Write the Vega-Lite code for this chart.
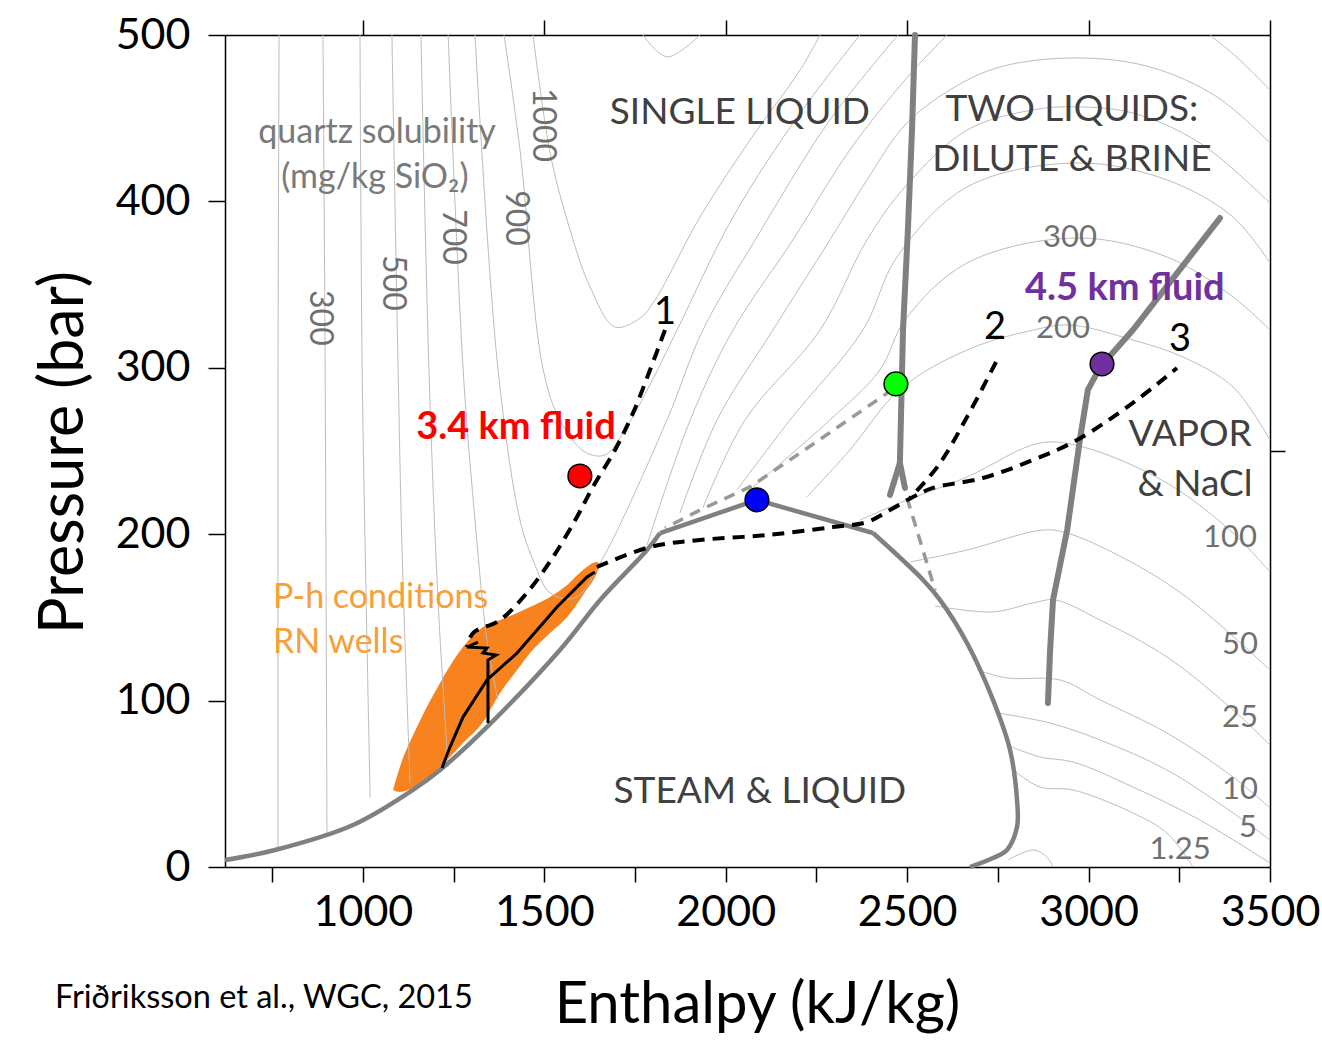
{
"$schema": "https://vega.github.io/schema/vega-lite/v6.json",
"width": 1045, "height": 832,
"autosize": "none",
"padding": {"left": 225, "top": 35, "right": 52, "bottom": 194},
"background": "white",
"config": {"view": {"stroke": null}, "font": "Lato",
  "axis": {"grid": false, "domainColor": "black", "tickColor": "black", "labelColor": "black", "titleColor": "black", "labelFont": "Lato", "titleFont": "Lato", "titleFontWeight": "normal", "domainWidth": 1.5, "tickWidth": 1.5}},
"title": {"text": "Friðriksson et al., WGC, 2015", "orient": "bottom", "anchor": "start", "frame": "group", "font": "Lato", "fontSize": 32.5, "fontWeight": "normal", "color": "black", "dx": -170, "baseline": "alphabetic", "offset": 0, "dy": -26},
"datasets": {
 "orange": [
  {"h":1083,"p":46.3,"p2":46.3},{"h":1102,"p":60.1,"p2":45.1},{"h":1149,"p":84.1,"p2":49.3},{"h":1212.5,"p":110.6,"p2":60.1},{"h":1276,"p":132.2,"p2":74.5},{"h":1331,"p":144.2,"p2":87.1},{"h":1378,"p":148.4,"p2":104.6},{"h":1425,"p":152.7,"p2":118.4},{"h":1460.6,"p":156.3,"p2":128.6},{"h":1516,"p":162.3,"p2":140.6},{"h":1563,"p":169.5,"p2":150.2},{"h":1606.6,"p":178.5,"p2":163.5},{"h":1645,"p":183.3,"p2":176.7},{"h":1654,"p":181.5,"p2":181.5}
 ],
 "contours": [
  {"c":"V1","o":1,"h":769,"p":500},{"c":"V1","o":2,"h":766,"p":280.7},{"c":"V1","o":3,"h":766,"p":9.6},
  {"c":"V2","o":1,"h":890,"p":500},{"c":"V2","o":2,"h":896,"p":299.9},{"c":"V2","o":3,"h":901,"p":20.4},
  {"c":"V3","o":1,"h":992,"p":500},{"c":"V3","o":2,"h":998,"p":299.9},{"c":"V3","o":3,"h":1009,"p":160.5},{"c":"V3","o":4,"h":1020,"p":41.5},
  {"c":"V4","o":1,"h":1080,"p":500},{"c":"V4","o":2,"h":1097,"p":299.9},{"c":"V4","o":3,"h":1108,"p":190.5},{"c":"V4","o":4,"h":1130,"p":50.5},
  {"c":"V5","o":1,"h":1160,"p":500},{"c":"V5","o":2,"h":1182,"p":299.9},{"c":"V5","o":3,"h":1207,"p":160.5},{"c":"V5","o":4,"h":1235,"p":60.1},
  {"c":"V6","o":1,"h":1235,"p":500},{"c":"V6","o":2,"h":1276,"p":299.9},{"c":"V6","o":3,"h":1309,"p":208.5},{"c":"V6","o":4,"h":1342,"p":136.4},{"c":"V6","o":5,"h":1372,"p":100.4},
  {"c":"V7","o":1,"h":1309,"p":500},{"c":"V7","o":2,"h":1372,"p":299.9},{"c":"V7","o":3,"h":1433,"p":208.5},{"c":"V7","o":4,"h":1469,"p":184.5},{"c":"V7","o":5,"h":1516,"p":164.7},{"c":"V7","o":6,"h":1585,"p":161.7},{"c":"V7","o":7,"h":1654,"p":182.7},{"c":"V7","o":8,"h":1838,"p":268.6},{"c":"V7","o":9,"h":1937,"p":322.7},{"c":"V7","o":10,"h":2081,"p":376.8},{"c":"V7","o":11,"h":2287,"p":448.9},{"c":"V7","o":12,"h":2475,"p":500},
  {"c":"V8","o":1,"h":1389,"p":500},{"c":"V8","o":2,"h":1433,"p":430.9},{"c":"V8","o":3,"h":1496,"p":299.9},{"c":"V8","o":4,"h":1543,"p":268.6},{"c":"V8","o":5,"h":1612,"p":249.4},{"c":"V8","o":6,"h":1667,"p":247.6},{"c":"V8","o":7,"h":1722,"p":262.6},{"c":"V8","o":8,"h":1791,"p":289.7},{"c":"V8","o":9,"h":1866,"p":322.7},{"c":"V8","o":10,"h":2020,"p":390.6},{"c":"V8","o":11,"h":2205,"p":453.1},{"c":"V8","o":12,"h":2370,"p":500},
  {"c":"V9","o":1,"h":1469,"p":500},{"c":"V9","o":2,"h":1516,"p":429.1},{"c":"V9","o":3,"h":1563,"p":388.8},{"c":"V9","o":4,"h":1626,"p":348.6},{"c":"V9","o":5,"h":1695,"p":324.5},{"c":"V9","o":6,"h":1764,"p":329.9},{"c":"V9","o":7,"h":1805,"p":340.7},{"c":"V9","o":8,"h":1929,"p":390.6},{"c":"V9","o":9,"h":2067,"p":436.9},{"c":"V9","o":10,"h":2205,"p":479},{"c":"V9","o":11,"h":2260,"p":500},
  {"c":"V10","o":1,"h":1772,"p":500},{"c":"V10","o":2,"h":1838,"p":486.8},{"c":"V10","o":3,"h":1929,"p":500},
  {"c":"L2","o":1,"h":1783,"p":193.5},{"c":"L2","o":2,"h":1902,"p":268.6},{"c":"L2","o":3,"h":2020,"p":322.7},{"c":"L2","o":4,"h":2185,"p":376.8},{"c":"L2","o":5,"h":2342,"p":430.9},{"c":"L2","o":6,"h":2494,"p":473},{"c":"L2","o":7,"h":2549,"p":486.2},{"c":"L2","o":8,"h":2610,"p":500},
  {"c":"L3","o":1,"h":1874,"p":212.8},{"c":"L3","o":2,"h":1976,"p":268.6},{"c":"L3","o":3,"h":2130,"p":322.7},{"c":"L3","o":4,"h":2287,"p":376.8},{"c":"L3","o":5,"h":2398,"p":415.9},{"c":"L3","o":6,"h":2494,"p":445.9},{"c":"L3","o":7,"h":2618,"p":467},{"c":"L3","o":8,"h":2756,"p":480.8},{"c":"L3","o":9,"h":2968,"p":486.2},{"c":"L3","o":10,"h":3169,"p":480.8},{"c":"L3","o":11,"h":3354,"p":462.8},{"c":"L3","o":12,"h":3500,"p":435.1},
  {"c":"L4","o":1,"h":1937,"p":215.8},{"c":"L4","o":2,"h":2053,"p":268.6},{"c":"L4","o":3,"h":2260,"p":322.7},{"c":"L4","o":4,"h":2389,"p":376.8},{"c":"L4","o":5,"h":2494,"p":408.7},{"c":"L4","o":6,"h":2665,"p":442.9},{"c":"L4","o":7,"h":2847,"p":455},{"c":"L4","o":8,"h":2968,"p":456.8},{"c":"L4","o":9,"h":3122,"p":453.1},{"c":"L4","o":10,"h":3307,"p":435.1},{"c":"L4","o":11,"h":3500,"p":399},
  {"c":"L5","o":1,"h":2031,"p":226.6},{"c":"L5","o":2,"h":2177,"p":268.6},{"c":"L5","o":3,"h":2378,"p":322.7},{"c":"L5","o":4,"h":2472,"p":366.6},{"c":"L5","o":5,"h":2665,"p":408.7},{"c":"L5","o":6,"h":2968,"p":423.1},{"c":"L5","o":7,"h":3216,"p":412.9},{"c":"L5","o":8,"h":3398,"p":390.6},{"c":"L5","o":9,"h":3500,"p":363},
  {"c":"L6","o":1,"h":2075,"p":228.4},{"c":"L6","o":2,"h":2287,"p":268.6},{"c":"L6","o":3,"h":2425,"p":298.7},{"c":"L6","o":4,"h":2494,"p":328.7},{"c":"L6","o":5,"h":2665,"p":363},{"c":"L6","o":6,"h":2968,"p":378},{"c":"L6","o":7,"h":3216,"p":366.6},{"c":"L6","o":8,"h":3398,"p":342.6},{"c":"L6","o":9,"h":3500,"p":322.7},
  {"c":"L7","o":1,"h":2224,"p":222.4},{"c":"L7","o":2,"h":2342,"p":250.6},{"c":"L7","o":3,"h":2480,"p":287},{"c":"L7","o":4,"h":2665,"p":310.7},{"c":"L7","o":5,"h":2847,"p":322.7},{"c":"L7","o":6,"h":2949,"p":325.7},{"c":"L7","o":7,"h":3122,"p":316.7},{"c":"L7","o":8,"h":3260,"p":306.5},{"c":"L7","o":9,"h":3398,"p":288.5},{"c":"L7","o":10,"h":3500,"p":256.6},
  {"c":"L8","o":1,"h":2370,"p":208.5},{"c":"L8","o":2,"h":2480,"p":218.8},{"c":"L8","o":3,"h":2665,"p":234.4},{"c":"L8","o":4,"h":2866,"p":254.8},{"c":"L8","o":5,"h":2985,"p":252.4},{"c":"L8","o":6,"h":3216,"p":230.8},{"c":"L8","o":7,"h":3398,"p":200.7},{"c":"L8","o":8,"h":3500,"p":177.3},
  {"c":"L9","o":1,"h":2508,"p":183.3},{"c":"L9","o":2,"h":2665,"p":190.5},{"c":"L9","o":3,"h":2874,"p":202.5},{"c":"L9","o":4,"h":2941,"p":200.7},{"c":"L9","o":5,"h":3122,"p":182.7},{"c":"L9","o":6,"h":3280,"p":160.5},{"c":"L9","o":7,"h":3500,"p":118.4},
  {"c":"L10","o":1,"h":2577,"p":156.9},{"c":"L10","o":2,"h":2737,"p":153.3},{"c":"L10","o":3,"h":2847,"p":158.7},{"c":"L10","o":4,"h":2907,"p":160.5},{"c":"L10","o":5,"h":3032,"p":148.4},{"c":"L10","o":6,"h":3216,"p":126.2},{"c":"L10","o":7,"h":3398,"p":94.4},{"c":"L10","o":8,"h":3500,"p":73.3},
  {"c":"L11","o":1,"h":2693,"p":118.4},{"c":"L11","o":2,"h":2775,"p":113.6},{"c":"L11","o":3,"h":2921,"p":112.4},{"c":"L11","o":4,"h":3032,"p":100.4},{"c":"L11","o":5,"h":3216,"p":80.5},{"c":"L11","o":6,"h":3398,"p":54.1},{"c":"L11","o":7,"h":3500,"p":35.5},
  {"c":"L12","o":1,"h":2748,"p":92.6},{"c":"L12","o":2,"h":2894,"p":86.5},{"c":"L12","o":3,"h":3032,"p":76.3},{"c":"L12","o":4,"h":3216,"p":58.3},{"c":"L12","o":5,"h":3398,"p":32.5},{"c":"L12","o":6,"h":3500,"p":16.2},
  {"c":"L13","o":1,"h":2775,"p":73.3},{"c":"L13","o":2,"h":2866,"p":66.1},{"c":"L13","o":3,"h":2957,"p":63.1},{"c":"L13","o":4,"h":3122,"p":48.1},{"c":"L13","o":5,"h":3307,"p":28.2},{"c":"L13","o":6,"h":3500,"p":2.4},
  {"c":"L14","o":1,"h":2792,"p":58.3},{"c":"L14","o":2,"h":2866,"p":48.1},{"c":"L14","o":3,"h":2957,"p":46.3},{"c":"L14","o":4,"h":3122,"p":32.5},{"c":"L14","o":5,"h":3216,"p":20.4},{"c":"L14","o":6,"h":3288,"p":0},
  {"c":"L15","o":1,"h":2778,"p":4.2},{"c":"L15","o":2,"h":2847,"p":10.2},{"c":"L15","o":3,"h":2885,"p":6},{"c":"L15","o":4,"h":2902,"p":0},
  {"c":"L16","o":1,"h":3335,"p":500},{"c":"L16","o":2,"h":3417,"p":485},{"c":"L16","o":3,"h":3500,"p":467}
 ],
 "boundary": [
  {"c":"bA","o":1,"h":620,"p":4.2},{"c":"bA","o":2,"h":758,"p":10.2},{"c":"bA","o":3,"h":972.8,"p":25.2},{"c":"bA","o":4,"h":1138,"p":46.3},{"c":"bA","o":5,"h":1212.5,"p":58.3},{"c":"bA","o":6,"h":1350,"p":85.9},{"c":"bA","o":7,"h":1543,"p":130.4},{"c":"bA","o":8,"h":1654,"p":160.5},{"c":"bA","o":9,"h":1783,"p":190.5},{"c":"bA","o":10,"h":1819,"p":200.7},
  {"c":"bB","o":1,"h":1819,"p":200.7},{"c":"bB","o":2,"h":2086,"p":220.6},
  {"c":"bC","o":1,"h":2086,"p":220.6},{"c":"bC","o":2,"h":2406,"p":200.7},
  {"c":"bD","o":1,"h":2406,"p":200.7},{"c":"bD","o":2,"h":2544,"p":172.5},{"c":"bD","o":3,"h":2590.5,"p":160.5},{"c":"bD","o":4,"h":2665,"p":134.6},{"c":"bD","o":5,"h":2736.6,"p":100.4},{"c":"bD","o":6,"h":2783.5,"p":70.3},{"c":"bD","o":7,"h":2802.8,"p":40.3},{"c":"bD","o":8,"h":2802.8,"p":24},{"c":"bD","o":9,"h":2775,"p":10.2},{"c":"bD","o":10,"h":2736.6,"p":5.4},{"c":"bD","o":11,"h":2673,"p":0}
 ],
 "gray": [
  {"c":"T1","o":1,"h":2521.6,"p":500},{"c":"T1","o":2,"h":2513.4,"p":442.9},{"c":"T1","o":3,"h":2502,"p":382.8},{"c":"T1","o":4,"h":2488.6,"p":322.7},{"c":"T1","o":5,"h":2480,"p":242.8},{"c":"T1","o":6,"h":2452.7,"p":223.6},
  {"c":"T1b","o":1,"h":2480,"p":242.8},{"c":"T1b","o":2,"h":2494,"p":227.8},
  {"c":"T2","o":1,"h":3362,"p":390},{"c":"T2","o":2,"h":3122,"p":322.7},{"c":"T2","o":3,"h":3032,"p":300.5},{"c":"T2","o":4,"h":2998,"p":286.7},{"c":"T2","o":5,"h":2976,"p":256.6},{"c":"T2","o":6,"h":2941,"p":202.5},{"c":"T2","o":7,"h":2902,"p":160.5},{"c":"T2","o":8,"h":2894,"p":130.4},{"c":"T2","o":9,"h":2888,"p":98.6}
 ],
 "dashed": [
  {"c":"D1","o":1,"h":1832.6,"p":322.7},{"c":"D1","o":2,"h":1791.3,"p":298.7},{"c":"D1","o":3,"h":1744.4,"p":272.8},{"c":"D1","o":4,"h":1694.8,"p":250.6},{"c":"D1","o":5,"h":1634,"p":228.4},{"c":"D1","o":6,"h":1590,"p":210.4},{"c":"D1","o":7,"h":1524,"p":186.3},{"c":"D1","o":8,"h":1452,"p":164.7},{"c":"D1","o":9,"h":1378,"p":148.4},{"c":"D1","o":10,"h":1303.5,"p":140.6},{"c":"D1","o":11,"h":1287,"p":132.2},
  {"c":"D2","o":1,"h":2745,"p":303.5},{"c":"D2","o":2,"h":2665,"p":270.4},{"c":"D2","o":3,"h":2585,"p":241},{"c":"D2","o":4,"h":2508,"p":221.8},
  {"c":"D3","o":1,"h":1645,"p":180.3},{"c":"D3","o":2,"h":1791,"p":192.3},{"c":"D3","o":3,"h":1929,"p":196.5},{"c":"D3","o":4,"h":2113.8,"p":199.5},{"c":"D3","o":5,"h":2295.6,"p":204.3},{"c":"D3","o":6,"h":2389,"p":207.3},{"c":"D3","o":7,"h":2452.7,"p":214.5},{"c":"D3","o":8,"h":2516,"p":222.4},{"c":"D3","o":9,"h":2571,"p":227.8},{"c":"D3","o":10,"h":2709,"p":233.8},{"c":"D3","o":11,"h":2847,"p":244.6},{"c":"D3","o":12,"h":2968,"p":256.6},{"c":"D3","o":13,"h":3122,"p":278.9},{"c":"D3","o":14,"h":3243.7,"p":299.9},
  {"c":"G1","o":1,"h":2460,"p":287},{"c":"G1","o":2,"h":2205,"p":248.8},{"c":"G1","o":3,"h":2067,"p":228.4},{"c":"G1","o":4,"h":1929,"p":214.5},{"c":"G1","o":5,"h":1832.6,"p":203.7},
  {"c":"G2","o":1,"h":2499.6,"p":221.8},{"c":"G2","o":2,"h":2577,"p":166.5}
 ],
 "well": [
  {"c":"W1","o":1,"h":1218,"p":59.5},{"c":"W1","o":2,"h":1240,"p":72.1},{"c":"W1","o":3,"h":1276,"p":90.1},{"c":"W1","o":4,"h":1342,"p":112.4},{"c":"W1","o":5,"h":1425,"p":128.6},{"c":"W1","o":6,"h":1535,"p":156.3},{"c":"W1","o":7,"h":1617.7,"p":174.3},{"c":"W1","o":8,"h":1639.7,"p":177.3},
  {"c":"W2","o":1,"h":1344.8,"p":86.5},{"c":"W2","o":2,"h":1344.8,"p":124.4},{"c":"W2","o":3,"h":1367,"p":127.4},{"c":"W2","o":4,"h":1331,"p":128.6},{"c":"W2","o":5,"h":1342,"p":131.6},{"c":"W2","o":6,"h":1287,"p":132.2},{"c":"W2","o":7,"h":1317,"p":135.2}
 ],
 "points": [
  {"name":"3.4 km fluid","h":1598,"p":235},
  {"name":"boundary point","h":2469,"p":290.3},
  {"name":"critical point","h":2086,"p":220.6},
  {"name":"4.5 km fluid","h":3037,"p":302.3}
 ],
 "labels": [
  {"k":"region","t":"SINGLE LIQUID","h":2039,"p":453.1},
  {"k":"region","t":"TWO LIQUIDS:","h":2954,"p":455},
  {"k":"region","t":"DILUTE & BRINE","h":2954,"p":424.9},
  {"k":"region","t":"VAPOR","h":3280,"p":259.6},
  {"k":"region","t":"& NaCl","h":3293,"p":229.6},
  {"k":"region","t":"STEAM & LIQUID","h":2094,"p":45.1},
  {"k":"note","t":"quartz solubility","h":1039,"p":441.1},
  {"k":"note","t":"(mg/kg SiO₂)","h":1033,"p":414.1},
  {"k":"well","t":"P-h conditions","h":752,"p":161.7},
  {"k":"well","t":"RN wells","h":752,"p":134.6},
  {"k":"fluid","t":"3.4 km fluid","h":1422,"p":263.8},
  {"k":"fluid","t":"4.5 km fluid","h":3100,"p":347.5},
  {"k":"num","t":"1","h":1832.6,"p":333},
  {"k":"num","t":"2","h":2742,"p":323.9},
  {"k":"num","t":"3","h":3252,"p":316.7},
  {"k":"clabr","t":"1000","h":1496,"p":445.9},
  {"k":"clabr","t":"900","h":1422,"p":390},
  {"k":"clabr","t":"700","h":1248,"p":378.6},
  {"k":"clabr","t":"500","h":1083,"p":351},
  {"k":"clabr","t":"300","h":882,"p":330},
  {"k":"clab","t":"300","h":2949,"p":378},
  {"k":"clab","t":"200","h":2929.5,"p":323.5},
  {"k":"clab","t":"100","h":3390,"p":197.7},
  {"k":"clab","t":"50","h":3417,"p":133.4},
  {"k":"clab","t":"25","h":3417,"p":89.5},
  {"k":"clab","t":"10","h":3417,"p":46.3},
  {"k":"clab","t":"5","h":3439,"p":23.4},
  {"k":"clab","t":"1.25","h":3252,"p":10.2}
 ]
},
"resolve": {"axis": {"x": "independent", "y": "independent"}},
"layer": [
 {
  "encoding": {
   "x": {"field": "h", "type": "quantitative", "scale": {"domain": [620, 3500], "nice": false, "zero": false},
     "axis": {"orient": "bottom", "values": [750,1000,1250,1500,1750,2000,2250,2500,2750,3000,3250,3500], "format": "d", "labelExpr": "datum.value % 500 == 0 ? datum.label : ''", "tickSize": 15, "labelFontSize": 43, "labelPadding": 9, "labelFlush": false, "labelOverlap": false, "title": "Enthalpy (kJ/kg)", "titleFontSize": 58, "titleX": 532, "titleY": 155, "titleAlign": "center", "titleBaseline": "alphabetic"}},
   "y": {"field": "p", "type": "quantitative", "scale": {"domain": [0, 500], "nice": false, "zero": false},
     "axis": {"orient": "left", "values": [0,100,200,300,400,500], "tickSize": 17, "labelFontSize": 43, "labelPadding": 18, "labelFlush": false, "labelOverlap": false, "title": "Pressure (bar)", "titleFontSize": 61, "titleX": -143, "titleY": 417, "titleAngle": -90, "titleAlign": "center", "titleBaseline": "alphabetic"}}
  },
  "layer": [
   {"data": {"name": "orange"}, "mark": {"type": "area", "color": "#F7821E", "interpolate": "monotone"}, "encoding": {"y2": {"field": "p2"}}},
   {"data": {"name": "contours"}, "mark": {"type": "line", "color": "#bdbdbd", "strokeWidth": 1, "interpolate": "catmull-rom"}, "encoding": {"detail": {"field": "c"}, "order": {"field": "o"}}},
   {"data": {"name": "boundary"}, "mark": {"type": "line", "color": "#808080", "strokeWidth": 4.5, "interpolate": "catmull-rom"}, "encoding": {"detail": {"field": "c"}, "order": {"field": "o"}}},
   {"data": {"name": "gray"}, "mark": {"type": "line", "color": "#808080", "strokeWidth": 6, "strokeCap": "round"}, "encoding": {"detail": {"field": "c"}, "order": {"field": "o"}}},
   {"data": {"name": "dashed"}, "transform": [{"filter": "datum.c == 'G1' || datum.c == 'G2'"}], "mark": {"type": "line", "color": "#999999", "strokeWidth": 3.5, "strokeDash": [11, 8]}, "encoding": {"detail": {"field": "c"}, "order": {"field": "o"}}},
   {"data": {"name": "dashed"}, "transform": [{"filter": "datum.c == 'D1' || datum.c == 'D2' || datum.c == 'D3'"}], "mark": {"type": "line", "color": "black", "strokeWidth": 4, "strokeDash": [12, 8], "interpolate": "catmull-rom"}, "encoding": {"detail": {"field": "c"}, "order": {"field": "o"}}},
   {"data": {"name": "well"}, "mark": {"type": "line", "color": "black", "strokeWidth": 3}, "encoding": {"detail": {"field": "c"}, "order": {"field": "o"}}},
   {"data": {"name": "points"}, "mark": {"type": "circle", "size": 560, "stroke": "black", "strokeWidth": 1.5, "opacity": 1},
    "encoding": {"color": {"field": "name", "type": "nominal", "scale": {"domain": ["3.4 km fluid", "4.5 km fluid", "boundary point", "critical point"], "range": ["#FF0000", "#7030A0", "#00FF00", "#0000FF"]}, "legend": null}}},
   {"data": {"name": "labels"}, "transform": [{"filter": "datum.k == 'region'"}], "mark": {"type": "text", "font": "Lato", "fontSize": 37, "color": "#404040", "align": "center", "baseline": "middle"}, "encoding": {"text": {"field": "t"}}},
   {"data": {"name": "labels"}, "transform": [{"filter": "datum.k == 'note'"}], "mark": {"type": "text", "font": "Lato", "fontSize": 34, "color": "#7a7a7a", "align": "center", "baseline": "middle"}, "encoding": {"text": {"field": "t"}}},
   {"data": {"name": "labels"}, "transform": [{"filter": "datum.k == 'well'"}], "mark": {"type": "text", "font": "Lato", "fontSize": 34, "color": "#F5A03A", "align": "left", "baseline": "middle"}, "encoding": {"text": {"field": "t"}}},
   {"data": {"name": "labels"}, "transform": [{"filter": "datum.k == 'fluid'"}], "mark": {"type": "text", "font": "Lato", "fontSize": 38, "fontWeight": "bold", "align": "center", "baseline": "middle"},
    "encoding": {"text": {"field": "t"}, "color": {"field": "t", "type": "nominal", "scale": {"domain": ["3.4 km fluid", "4.5 km fluid", "boundary point", "critical point"], "range": ["#FF0000", "#7030A0", "#00FF00", "#0000FF"]}, "legend": null}}},
   {"data": {"name": "labels"}, "transform": [{"filter": "datum.k == 'num'"}], "mark": {"type": "text", "font": "Lato", "fontSize": 38, "color": "black", "align": "center", "baseline": "middle"}, "encoding": {"text": {"field": "t"}}},
   {"data": {"name": "labels"}, "transform": [{"filter": "datum.k == 'clab'"}], "mark": {"type": "text", "font": "Lato", "fontSize": 31, "color": "#707070", "align": "center", "baseline": "middle"}, "encoding": {"text": {"field": "t"}}},
   {"data": {"name": "labels"}, "transform": [{"filter": "datum.k == 'clabr'"}], "mark": {"type": "text", "font": "Lato", "fontSize": 32, "color": "#707070", "align": "center", "baseline": "middle", "angle": 90}, "encoding": {"text": {"field": "t"}}}
  ]
 },
 {
  "data": {"name": "points"},
  "mark": {"type": "point", "opacity": 0},
  "encoding": {
   "x": {"field": "h", "type": "quantitative", "scale": {"domain": [620, 3500], "nice": false, "zero": false},
     "axis": {"orient": "top", "values": [1000,1500,2000,2500,3000,3500], "labels": false, "tickSize": 15, "title": null}},
   "y": {"field": "p", "type": "quantitative", "scale": {"domain": [0, 500], "nice": false, "zero": false},
     "axis": {"orient": "right", "values": [250], "labels": false, "tickSize": 15, "title": null}}
  }
 }
]
}
